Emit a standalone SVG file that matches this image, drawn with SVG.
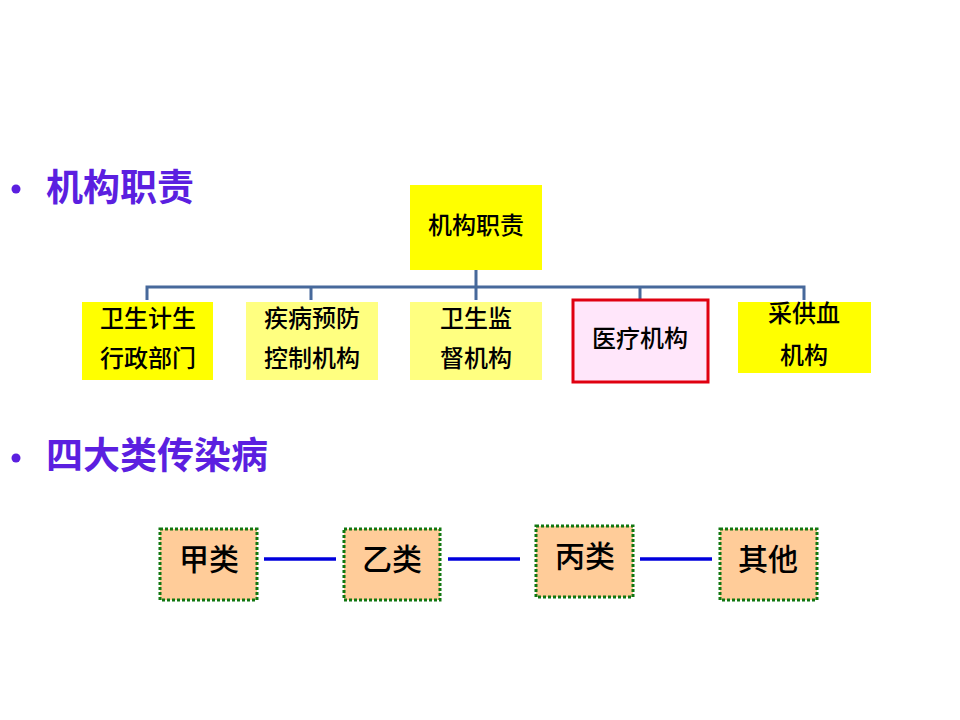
<svg xmlns="http://www.w3.org/2000/svg" width="960" height="720" viewBox="0 0 960 720">
<style>
.t{font-family:"Liberation Sans","Noto Sans CJK SC",sans-serif;font-weight:500;fill:#000;text-anchor:middle;dominant-baseline:central}
.s{font-size:24px}
.b{font-size:30px}
.h{font-family:"Liberation Sans","Noto Sans CJK SC",sans-serif;font-size:37px;font-weight:bold;fill:#5B1FE0;dominant-baseline:central}
.y{fill:#FFFF00}
.ly{fill:#FFFF80}
.pk{fill:#FFE6FA;stroke:#E00010;stroke-width:3}
.pc{fill:#FFCC99;stroke:#117711;stroke-width:3;stroke-dasharray:3 2}
.cn{fill:none;stroke:#47699B;stroke-width:3}
.bl{stroke:#0000DD;stroke-width:3.5}
</style>
<rect width="960" height="720" fill="#fff"/>
<g id="heading1">
<circle cx="16" cy="189" r="4.5" fill="#5B1FE0"/>
<text class="h" x="46" y="188">机构职责</text>
</g>
<g id="heading2">
<circle cx="16" cy="458" r="4.5" fill="#5B1FE0"/>
<text class="h" x="46" y="456">四大类传染病</text>
</g>
<g id="connectors">
<path class="cn" d="M476,270 V287 M147,300 V287 H804 V300 M311,287 V300 M476,287 V300 M640,287 V299"/>
<line class="bl" x1="264" y1="559" x2="336" y2="559"/>
<line class="bl" x1="448" y1="559" x2="520" y2="559"/>
<line class="bl" x1="640" y1="559" x2="712" y2="559"/>
</g>
<g id="root">
<rect class="y" x="410" y="185" width="132" height="85"/>
<text class="t s" x="476" y="225">机构职责</text>
</g>
<g id="n1">
<rect class="y" x="82" y="302" width="131" height="78"/>
<text class="t s" x="148" y="318">卫生计生</text>
<text class="t s" x="148" y="358">行政部门</text>
</g>
<g id="n2">
<rect class="ly" x="246" y="302" width="132" height="78"/>
<text class="t s" x="312" y="318">疾病预防</text>
<text class="t s" x="312" y="358">控制机构</text>
</g>
<g id="n3">
<rect class="ly" x="410" y="302" width="132" height="78"/>
<text class="t s" x="476" y="318">卫生监</text>
<text class="t s" x="476" y="358">督机构</text>
</g>
<g id="n4">
<rect class="pk" x="573" y="300" width="135" height="82"/>
<text class="t s" x="640" y="338">医疗机构</text>
</g>
<g id="n5">
<rect class="y" x="738" y="302" width="133" height="71"/>
<text class="t s" x="804" y="313">采供血</text>
<text class="t s" x="804" y="355">机构</text>
</g>
<g id="c1">
<rect class="pc" x="160" y="529" width="97" height="71"/>
<text class="t b" x="209" y="559">甲类</text>
</g>
<g id="c2">
<rect class="pc" x="344" y="529" width="96" height="71"/>
<text class="t b" x="392" y="559">乙类</text>
</g>
<g id="c3">
<rect class="pc" x="536" y="526" width="97" height="71"/>
<text class="t b" x="585" y="556">丙类</text>
</g>
<g id="c4">
<rect class="pc" x="720" y="529" width="97" height="71"/>
<text class="t b" x="768" y="559">其他</text>
</g>
</svg>
